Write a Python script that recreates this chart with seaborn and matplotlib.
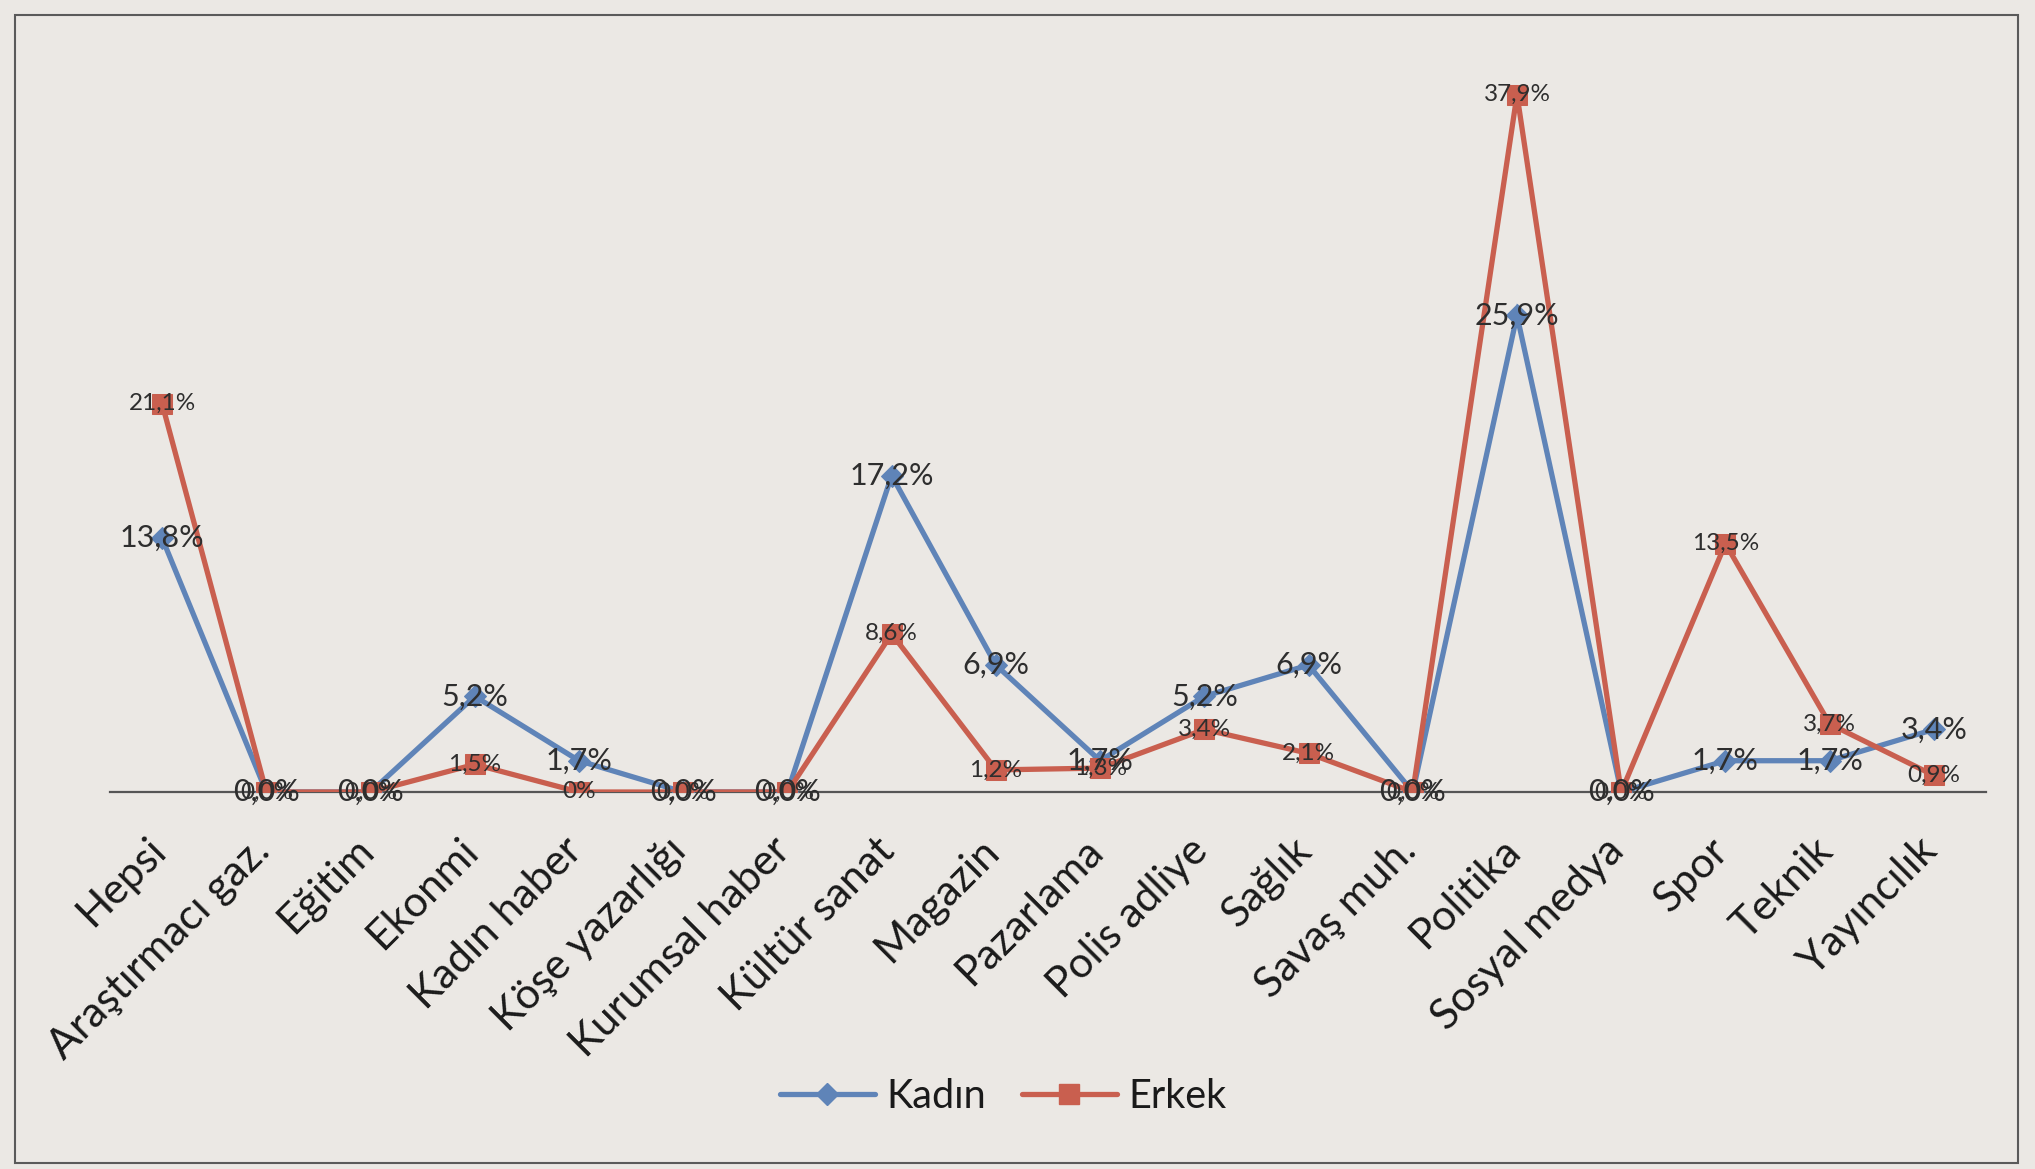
import numpy as np
import pandas as pd
import seaborn as sns
import matplotlib.pyplot as plt
import matplotlib.transforms as mtransforms
from matplotlib.lines import Line2D
from matplotlib.patches import Rectangle

# Haber alanlarına göre kadın ve erkek muhabir oranları (%)
categories = [
    "Hepsi", "Araştırmacı gaz.", "Eğitim", "Ekonmi", "Kadın haber",
    "Köşe yazarlığı", "Kurumsal haber", "Kültür sanat", "Magazin",
    "Pazarlama", "Polis adliye", "Sağlık", "Savaş muh.", "Politika",
    "Sosyal medya", "Spor", "Teknik", "Yayıncılık",
]
kadin = [13.8, 0.0, 0.0, 5.2, 1.7, 0.0, 0.0, 17.2, 6.9,
         1.7, 5.2, 6.9, 0.0, 25.9, 0.0, 1.7, 1.7, 3.4]
erkek = [21.1, 0.0, 0.0, 1.5, 0.0, 0.0, 0.0, 8.6, 1.2,
         1.3, 3.4, 2.1, 0.0, 37.9, 0.0, 13.5, 3.7, 0.9]
# number of decimals shown in each Erkek label
erkek_decimals = [1, 1, 1, 1, 0, 1, 1, 1, 1, 1, 1, 1, 1, 1, 1, 1, 1, 1]

series_names = ["Kadın", "Erkek"]
colors = {"Kadın": "#5f84b8", "Erkek": "#c95f4f"}
bg = "#ebe8e4"
text_color = "#2e2e2e"

sns.set_theme(style="white")
plt.rcParams["font.family"] = ["Lato", "DejaVu Sans"]

W, H = 2035, 1169
fig = plt.figure(figsize=(W / 100, H / 100), dpi=100, facecolor=bg)
ax = fig.add_axes([110 / W, 1 - 792 / H, (1986 - 110) / W, (792 - 56) / H])
ax.set_facecolor(bg)

df = pd.DataFrame({
    "Kategori": categories * 2,
    "Oran": kadin + erkek,
    "Cinsiyet": ["Kadın"] * len(categories) + ["Erkek"] * len(categories),
})

sns.lineplot(
    data=df, x="Kategori", y="Oran", hue="Cinsiyet", style="Cinsiyet",
    hue_order=series_names, style_order=series_names,
    palette=colors, markers={"Kadın": "D", "Erkek": "s"}, dashes=False,
    sort=False, linewidth=3.8, legend=False, ax=ax,
)

marker_sizes = {"Kadın": 11, "Erkek": 14}
for line, name in zip(ax.lines, series_names):
    line.set_markeredgecolor(colors[name])
    line.set_markerfacecolor(colors[name])
    line.set_markersize(marker_sizes[name])
    line.set_solid_joinstyle("miter")

# data labels, Turkish decimal comma
def fmt(v, d=1):
    return f"{v:.{d}f}".replace(".", ",") + "%"

for i, v in enumerate(kadin):
    ax.text(i, v, fmt(v), ha="center", va="center", fontsize=22,
            color=text_color, zorder=5)
for i, v in enumerate(erkek):
    ax.text(i, v, fmt(v, erkek_decimals[i]), ha="center", va="center",
            fontsize=17.5, color=text_color, zorder=5)

ax.set_xlim(-0.5, len(categories) - 0.5)
ax.set_ylim(0, 40)
ax.set_xticks(range(len(categories)))
ax.set_xticklabels(categories, rotation=45, ha="right",
                   rotation_mode="anchor", fontsize=30.5, color="#1a1a1a")
ax.tick_params(axis="x", length=0, pad=28)
# nudge the rotated labels left so each one ends under its point
shift = mtransforms.ScaledTranslation(-12 / 72, 0, fig.dpi_scale_trans)
for lbl in ax.get_xticklabels():
    lbl.set_transform(lbl.get_transform() + shift)
ax.set_yticks([])
ax.set_xlabel("")
ax.set_ylabel("")
for side in ["top", "left", "right"]:
    ax.spines[side].set_visible(False)
ax.spines["bottom"].set_color("#555555")
ax.spines["bottom"].set_linewidth(1.6)
ax.spines["bottom"].set_zorder(1)

handles = [
    Line2D([], [], color=colors["Kadın"], marker="D", markersize=11,
           linewidth=3.8, markeredgecolor=colors["Kadın"]),
    Line2D([], [], color=colors["Erkek"], marker="s", markersize=14,
           linewidth=3.8, markeredgecolor=colors["Erkek"]),
]
fig.legend(handles, series_names, loc="center", bbox_to_anchor=(0.493, 0.062),
           ncol=2, frameon=False, fontsize=28.5, handlelength=2.4,
           columnspacing=0.9, handletextpad=0.3, labelcolor="#1a1a1a")

# outer chart border
fig.patches.append(Rectangle((15 / W, 6 / H), (2018 - 15) / W, (1154 - 6) / H,
                             transform=fig.transFigure, fill=False,
                             edgecolor="#5a5a5a", linewidth=1.5))

fig.savefig("out.png", dpi=100, facecolor=bg)
